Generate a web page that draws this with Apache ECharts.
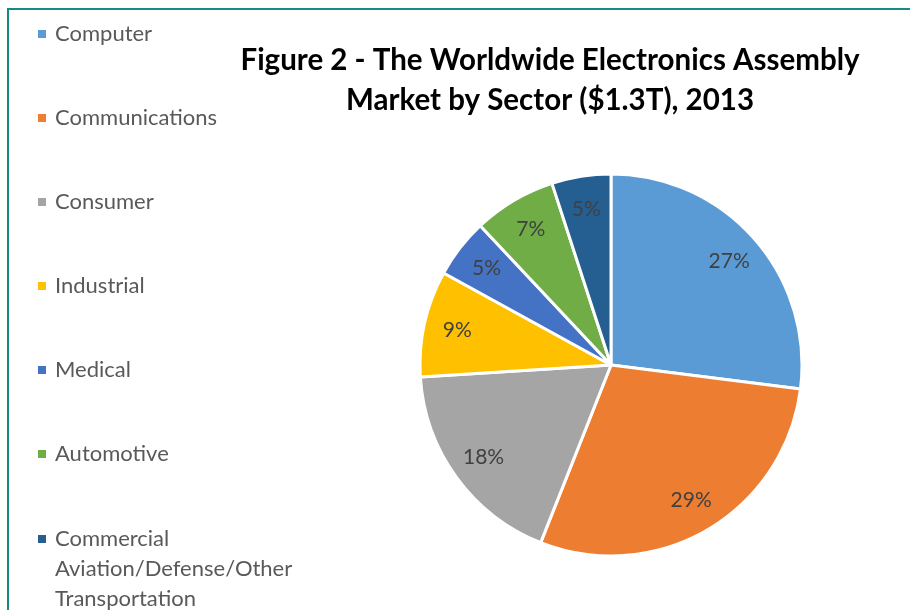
<!DOCTYPE html>
<html>
<head>
<meta charset="utf-8">
<script src="https://cdn.jsdelivr.net/npm/echarts@6/dist/echarts.min.js"></script>
<style>
html,body{margin:0;padding:0;background:#fff;}
#chart{width:910px;height:610px;}
</style>
</head>
<body>
<div id="chart"></div>
<script>
const categories = ['Computer', 'Communications', 'Consumer', 'Industrial', 'Medical', 'Automotive', 'Commercial Aviation/Defense/Other Transportation'];
const shares = [27, 29, 18, 9, 5, 7, 5];
const colors = ['#5B9BD5', '#ED7D31', '#A5A5A5', '#FFC000', '#4472C4', '#70AD47', '#255E91'];
const titleText = 'Figure 2 - The Worldwide Electronics Assembly\nMarket by Sector ($1.3T), 2013';

const chart = echarts.init(document.getElementById('chart'), null, {renderer: 'canvas'});
const pieData = categories.map((c, i) => ({name: c, value: shares[i], itemStyle: {color: colors[i]}}));
const labelData = categories.map((c, i) => ({name: c, value: shares[i]}));

const legendBase = {
  type: 'plain',
  orient: 'vertical',
  left: 33,
  height: 1000,
  itemWidth: 12,
  itemHeight: 8,
  itemGap: 54,
  icon: 'path://M0,0H8V8H0Z M12,0L12,0',
  itemStyle: {borderWidth: 0},
  textStyle: {fontFamily: 'Lato', fontSize: 22, lineHeight: 30, color: '#595959'}
};

chart.setOption({
  animation: false,
  backgroundColor: '#ffffff',
  title: {
    text: titleText,
    left: 545,
    top: 35,
    textAlign: 'center',
    textStyle: {fontFamily: 'Lato', fontWeight: 'bold', fontSize: 29.5, lineHeight: 40, color: '#000000'}
  },
  legend: [
    Object.assign({}, legendBase, {top: 14, data: categories.slice(0, 6)}),
    Object.assign({}, legendBase, {
      top: 459,
      data: categories.slice(6),
      formatter: name => '\n\n' + name.replace(' Aviation', '\nAviation').replace(' Transportation', '\nTransportation')
    })
  ],
  graphic: [{
    type: 'rect',
    silent: true,
    shape: {x: 8, y: 9, width: 930, height: 640},
    style: {fill: 'none', stroke: '#178A85', lineWidth: 2}
  }],
  series: [{
    type: 'pie',
    name: 'Sector',
    center: [611, 365],
    radius: [0, 191],
    startAngle: 90,
    clockwise: true,
    label: {show: false},
    labelLine: {show: false},
    emphasis: {disabled: true},
    itemStyle: {borderColor: '#ffffff', borderWidth: 3},
    data: pieData
  }, {
    type: 'pie',
    name: 'Labels',
    silent: true,
    center: [611, 365],
    radius: [118, 191],
    startAngle: 90,
    clockwise: true,
    emphasis: {disabled: true},
    itemStyle: {color: 'rgba(0,0,0,0)', borderWidth: 0},
    label: {show: true, position: 'inside', formatter: '{c}%', fontFamily: 'Lato', fontSize: 21, color: '#404040'},
    labelLine: {show: false},
    data: labelData
  }]
});
</script>
</body>
</html>
